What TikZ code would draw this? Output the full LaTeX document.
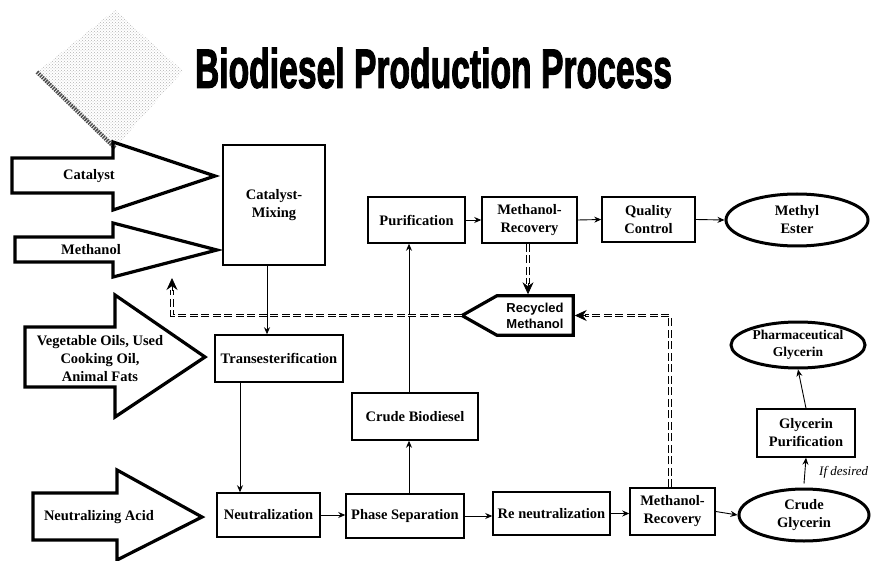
\documentclass[tikz,border=0pt]{standalone}
\usepackage{fontspec}
\setmainfont{Liberation Serif}
\newfontfamily\recfont{Liberation Sans}
\newfontfamily\titlefont{Liberation Sans}[UprightFont={* Bold}, FakeBold=2.5]
\usepackage{graphicx}
\usepackage{tikz}
\usetikzlibrary{shapes.geometric, arrows.meta, patterns}

\begin{document}
\begin{tikzpicture}[x=1pt, y=-1pt,
    box/.style={draw, line width=1.5pt, align=center, inner sep=0pt,
        font=\bfseries\fontsize{14.5}{18}\selectfont},
    prod/.style={ellipse, draw, line width=3pt, align=center, inner sep=0pt,
        font=\bfseries\fontsize{14.5}{18}\selectfont},
    inarrow/.style={line width=3.2pt, line join=miter},
    intext/.style={align=center, inner sep=0pt,
        font=\bfseries\fontsize{14.5}{18}\selectfont},
    flow/.style={-{Stealth[length=7pt,width=6pt]}, line width=0.9pt},
    recyc/.style={double, double distance=1.6pt, line width=0.8pt,
        dash pattern=on 8pt off 3.5pt},
    rtip/.style={-{Stealth[length=12pt,width=11pt]}, line width=0.8pt}]

    \useasboundingbox (0,0) rectangle (872,561);

    % Logo
    \fill[pattern=crosshatch dots, pattern color=black!30]
        (115,10) -- (183,71) -- (115,148) -- (37,72) -- cycle;
    \draw[line width=4pt, black!70, dash pattern=on 1.5pt off 1pt] (37,72) -- (115,148);

    % Title
    \node[inner sep=0pt] (title) at (433.5,68)
        {\resizebox{477pt}{40pt}{\titlefont Biodiesel Production Process}};

    % Inputs
    \draw[inarrow] (12,158) -- (113,158) -- (113,142) -- (215,176)
        -- (113,210) -- (113,193) -- (12,193) -- cycle;
    \node[intext] (cat) at (89,176) {Catalyst};

    \draw[inarrow] (15,237) -- (113,237) -- (113,223) -- (217,250)
        -- (113,277) -- (113,262) -- (15,262) -- cycle;
    \node[intext] (meth) at (91,250) {Methanol};

    \draw[inarrow] (25,327) -- (115,327) -- (115,295) -- (205,357)
        -- (115,417) -- (115,387) -- (25,387) -- cycle;
    \node[intext] (oils) at (100,359) {Vegetable Oils, Used\\Cooking Oil,\\Animal Fats};

    \draw[inarrow] (33,493) -- (117,493) -- (117,470) -- (202,517)
        -- (117,560) -- (117,540) -- (33,540) -- cycle;
    \node[intext] (acid) at (99,517) {Neutralizing Acid};

    % Process
    \node[box, minimum width=102pt, minimum height=120pt] (mix) at (274,205) {Catalyst-\\Mixing};
    \node[box, minimum width=128pt, minimum height=47pt] (trans) at (279,358.5) {Transesterification};
    \node[box, minimum width=103pt, minimum height=44pt] (neut) at (268.5,515) {Neutralization};
    \node[box, minimum width=118pt, minimum height=44pt] (phase) at (405,516) {Phase Separation};
    \node[box, minimum width=126pt, minimum height=47pt] (crude) at (415,416.5) {Crude Biodiesel};
    \node[box, minimum width=97pt, minimum height=46pt] (purif) at (416.5,220) {Purification};
    \node[box, minimum width=95pt, minimum height=46pt] (mr1) at (529.5,220) {Methanol-\\Recovery};
    \node[box, minimum width=93pt, minimum height=45pt] (qc) at (648.5,219.5) {Quality\\Control};
    \node[prod, minimum width=142pt, minimum height=52pt] (ester) at (797,220) {Methyl\\Ester};

    \node[box, minimum width=117pt, minimum height=43pt] (reneut) at (551.5,513.5) {Re neutralization};
    \node[box, minimum width=85pt, minimum height=47pt] (mr2) at (672.5,511.5) {Methanol-\\Recovery};
    \node[prod, minimum width=130pt, minimum height=52pt] (glyc) at (804,515) {Crude\\Glycerin};
    \node[box, minimum width=98pt, minimum height=48pt] (gpur) at (806,433) {Glycerin\\Purification};
    \node[prod, inner xsep=-2pt, minimum width=134pt, minimum height=46pt,
        font=\bfseries\fontsize{13.5}{17}\selectfont] (pharma) at (798,345) {Pharmaceutical\\Glycerin};

    % Recycled methanol
    \node[inner sep=0pt, minimum width=76pt, minimum height=39pt, align=center,
        font=\recfont\bfseries\fontsize{13}{16}\selectfont] (rec) at (535,315.5) {Recycled\\Methanol};
    \coordinate (rectip) at (462,315.5);
    \draw[inarrow] (rec.north west) -- (rec.north east) -- (rec.south east)
        -- (rec.south west) -- (rectip) -- cycle;
    \coordinate (methin) at (172,278);

    % Main flow
    \draw[flow] ([xshift=-7pt]mix.south) -- ([xshift=-12pt]trans.north);
    \draw[flow] ([xshift=-39pt]trans.south) -- ([xshift=-28.5pt]neut.north);
    \draw[flow] (neut.east) -- (neut.east -| phase.west);
    \draw[flow] ([xshift=4pt]phase.north) -- ([xshift=-6pt]crude.south);
    \draw[flow] ([xshift=-6pt]crude.north) -- ([xshift=-7.5pt]purif.south);
    \draw[flow] (purif.east) -- (mr1.west);
    \draw[flow] (mr1.east) -- (qc.west);
    \draw[flow] (qc.east) -- (ester.west);
    \draw[flow] (phase.east) -- (phase.east -| reneut.west);
    \draw[flow] (reneut.east) -- (reneut.east -| mr2.west);
    \draw[flow] (mr2.east) -- (glyc.west);
    \draw[flow] ([yshift=4pt]glyc.north) -- (gpur.south);
    \node[anchor=west, inner sep=0pt, font=\itshape\fontsize{13}{15}\selectfont] (ifd) at (819,472) {If desired};
    \draw[flow] (gpur.north) -- (pharma.south);

    % Recycle lines
    \draw[recyc] ([xshift=-1.5pt]mr1.south) -- ([xshift=-7pt,yshift=12pt]rec.north);
    \draw[rtip] ([xshift=-7pt,yshift=13pt]rec.north) -- ([xshift=-7pt,yshift=1.5pt]rec.north);
    \draw[recyc] (rectip) -| ([yshift=-12pt]methin);
    \draw[rtip] ([yshift=-13pt]methin) -- (methin);
    \draw[recyc] ([xshift=-2.5pt]mr2.north) |- ([xshift=12pt]rec.east);
    \draw[rtip] ([xshift=13pt]rec.east) -- ([xshift=1.5pt]rec.east);

\end{tikzpicture}
\end{document}
